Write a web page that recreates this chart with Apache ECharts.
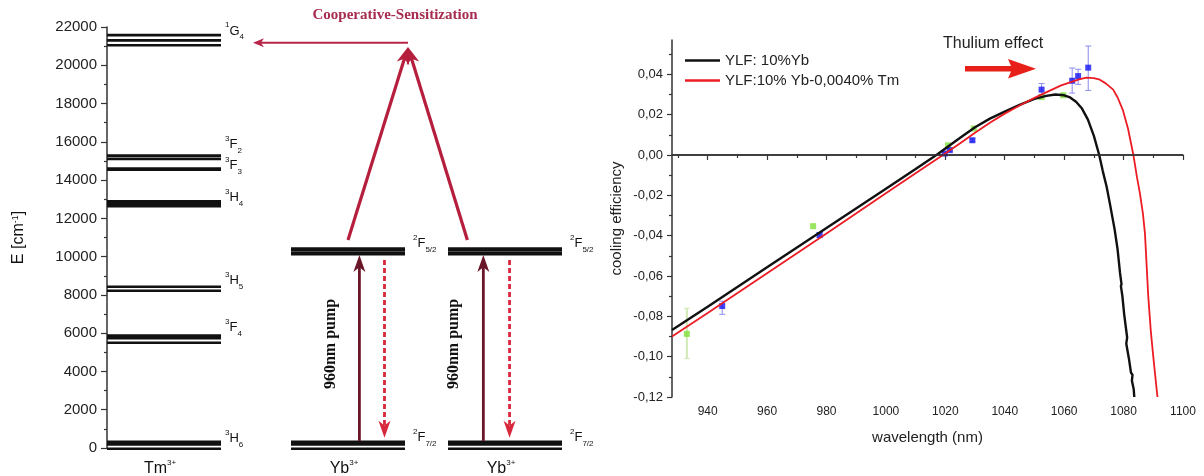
<!DOCTYPE html>
<html><head><meta charset="utf-8">
<script src="https://cdn.jsdelivr.net/npm/echarts@6/dist/echarts.min.js"></script>
<style>html,body{margin:0;padding:0;background:#fff}#c{width:1204px;height:476px}</style>
</head><body><div id="c"></div>
<script>
// ===================== DATA =====================
// Left panel: energy levels (cm^-1)
const tmLevelLabels = [['1','G','4'],['3','F','2'],['3','F','3'],['3','H','4'],['3','H','5'],['3','F','4'],['3','H','6']];
const tmSublevels = [[21575,21300,21050],[15280,15110],[14600,14540],[12890,12800,12720,12640],[8430,8220],[5870,5740,5500],[330,190,-40]];
const ybLevelLabels = [['2','F','5/2'],['2','F','7/2']];
const ybSublevels = [[10420,10330,10200,10130],[330,190,-40]];
const ionNames = ['Tm','Yb','Yb'];
const energyRange = [0, 22000];
const energyStep = 2000;

// Right panel: cooling efficiency vs wavelength
const wavelengthTicks = [940,960,980,1000,1020,1040,1060,1080,1100];
const wavelengthMinorTicks = [930,950,970,990,1010,1030,1050,1070,1090];
const wavelengthRange = [928, 1100];
const efficiencyTicks = [-0.12,-0.10,-0.08,-0.06,-0.04,-0.02,0.00,0.02,0.04];
const efficiencyMinorTicks = [-0.11,-0.09,-0.07,-0.05,-0.03,-0.01,0.01,0.03,0.05];
const efficiencyRange = [-0.12, 0.057];
const seriesNames = ['YLF: 10%Yb','YLF:10% Yb-0,0040% Tm'];
const blackCurve = [[928,-0.0868],[940,-0.0752],[960,-0.0557],[980,-0.0362],[1000,-0.0167],[1010,-0.0069],[1017,0.0],[1025,0.0085],[1030,0.0137],[1035,0.0180],[1040,0.0215],[1045,0.0248],[1050,0.0278],[1054,0.0293],[1057,0.0300],[1060,0.0296],[1062,0.0285],[1064,0.0264],[1066,0.0230],[1068,0.0175],[1070,0.0095],[1071.8,0.0],[1073,-0.0080],[1074.3,-0.0158],[1075.5,-0.0250],[1077,-0.0370],[1078,-0.0470],[1078.8,-0.0585],[1079.3,-0.0640],[1079.1,-0.0650],[1079.6,-0.0700],[1080.2,-0.0790],[1081.2,-0.0905],[1080.9,-0.0935],[1081.8,-0.1010],[1082.5,-0.1080],[1083.0,-0.1090],[1082.8,-0.1120],[1083.4,-0.1160],[1083.6,-0.1200]];
const redCurve = [[928,-0.0900],[940,-0.0783],[960,-0.0586],[980,-0.0389],[1000,-0.0190],[1010,-0.0091],[1019.2,0.0],[1025,0.0058],[1030,0.0110],[1035,0.0160],[1040,0.0205],[1045,0.0245],[1050,0.0283],[1055,0.0318],[1059,0.0345],[1062.5,0.0362],[1065,0.0375],[1067.5,0.0383],[1070,0.0381],[1072,0.0373],[1074,0.0355],[1076.5,0.0324],[1078,0.0285],[1079.8,0.0221],[1081.5,0.0130],[1083.3,0.0],[1084.5,-0.0110],[1085.5,-0.0190],[1086.5,-0.0290],[1087.2,-0.0390],[1088.3,-0.0700],[1089.2,-0.0880],[1090.2,-0.1030],[1091.4,-0.1200]];
// [wavelength, value, low, high]
const bluePoints = [[944.9,-0.0749,-0.0790,-0.0725],[977.7,-0.0397,-0.0410,-0.0385],[1019.8,0.0007,0.0000,0.0014],[1021.5,0.0024,0.0017,0.0031],[1029.1,0.0073,0.0066,0.0080],[1052.4,0.0324,0.0300,0.0354],[1062.7,0.0368,0.0307,0.0431],[1064.7,0.0391,0.0350,0.0425],[1068.1,0.0433,0.0320,0.0540]];
const greenPoints = [[933.0,-0.0887,-0.1010,-0.0760],[975.5,-0.0353,-0.0353,-0.0353],[1020.9,0.0048,0.0048,0.0048],[1029.6,0.0131,0.0131,0.0131],[1052.4,0.0287,0.0287,0.0287],[1059.7,0.0296,0.0296,0.0296]];

// ===================== LAYOUT =====================
const SANS = 'Liberation Sans, Arial, sans-serif';
const SERIF = 'Liberation Serif, Times New Roman, serif';
const columns = [{x0:0,x1:114,dx:4},{x0:184,x1:298,dx:8},{x0:341,x1:455,dx:8}];
const tmLabelDy = [-4,-11,-3,-4,-6,-8,-3];
const ybLabelDy = [-5,-4];
const levelItems = [];
tmSublevels.forEach((e,i)=>levelItems.push({col:0, energies:e, label:tmLevelLabels[i], dy:tmLabelDy[i]}));
ybSublevels.forEach((e,i)=>{ levelItems.push({col:1, energies:e, label:ybLevelLabels[i], dy:ybLabelDy[i]}); levelItems.push({col:2, energies:e, label:ybLevelLabels[i], dy:ybLabelDy[i]}); });

const ybUpper = ybSublevels[0], ybGround = ybSublevels[1];
const g4 = tmSublevels[0];
const colX = (c,f)=>columns[c].x0 + f*(columns[c].x1-columns[c].x0);
const apexX = 301;
const COOP='#b51f3d', PUMP='#6a1629', EMIT='#d8283c';
const arrows = [
  {from:[colX(1,0.5), Math.max(...ybUpper)+450], to:[apexX, Math.min(...g4)-100], color:COOP, w:3.2, L:17, W:13},
  {from:[colX(2,0.17), Math.max(...ybUpper)+450], to:[apexX, Math.min(...g4)-100], color:COOP, w:3.2, L:17, W:13},
  {from:[apexX, (g4[1]+g4[2])/2], to:[columns[0].x1+32, (g4[1]+g4[2])/2], color:'#b8254a', w:2, L:11, W:9},
  {from:[colX(1,0.6), Math.max(...ybGround)+40], to:[colX(1,0.6), Math.min(...ybUpper)-40], color:PUMP, w:2.8, L:17, W:12, text:true},
  {from:[colX(2,0.31), Math.max(...ybGround)+40], to:[colX(2,0.31), Math.min(...ybUpper)-40], color:PUMP, w:2.8, L:17, W:12, text:true},
  {from:[colX(1,0.82), Math.min(...ybUpper)-300], to:[colX(1,0.82), Math.max(...ybGround)+200], color:EMIT, w:2.8, L:17, W:12, dash:[5,3]},
  {from:[colX(2,0.54), Math.min(...ybUpper)-300], to:[colX(2,0.54), Math.max(...ybGround)+200], color:EMIT, w:2.8, L:17, W:12, dash:[5,3]}
];

const richLevel = {
  sup:{fontSize:8, fontFamily:SANS, verticalAlign:'top', lineHeight:9, fill:'#111'},
  main:{fontSize:13, fontFamily:SANS, lineHeight:20, fill:'#111'},
  sub:{fontSize:8, fontFamily:SANS, verticalAlign:'bottom', lineHeight:9, fill:'#111'}
};

function renderLevel(params, api){
  const it = levelItems[params.dataIndex];
  const c = columns[it.col];
  const ch = [];
  it.energies.forEach(E=>{
    const p0 = api.coord([c.x0,E]), p1 = api.coord([c.x1,E]);
    ch.push({type:'line', shape:{x1:p0[0],y1:p0[1],x2:p1[0],y2:p1[1]}, style:{stroke:'#111', lineWidth:2.6}});
  });
  const top = api.coord([c.x1, Math.max(...it.energies)]);
  const l = it.label;
  ch.push({type:'text', x: top[0]+c.dx, y: top[1]+it.dy, style:{text:'{sup|'+l[0]+'}{main|'+l[1]+'}{sub|'+l[2]+'}', rich:richLevel, align:'left', verticalAlign:'middle'}});
  return {type:'group', children:ch};
}
function renderIon(params, api){
  const c = columns[params.dataIndex];
  const p = api.coord([(c.x0+c.x1)/2 - 4, energyRange[0]]);
  return {type:'text', x:p[0], y:p[1]+21, style:{text:'{m|'+ionNames[params.dataIndex]+'}{s|3+}', align:'center', verticalAlign:'middle',
    rich:{m:{fontSize:16, fontFamily:SANS, lineHeight:20, fill:'#111'}, s:{fontSize:8, fontFamily:SANS, verticalAlign:'top', lineHeight:10, fill:'#111'}}}};
}
function arrowHead(tip, dir, L, W){
  const [dx,dy]=dir, nx=-dy, ny=dx;
  const bx=tip[0]-dx*L, by=tip[1]-dy*L;
  const notch=[tip[0]-dx*L*0.72, tip[1]-dy*L*0.72];
  return [tip,[bx+nx*W/2,by+ny*W/2],notch,[bx-nx*W/2,by-ny*W/2]];
}
function renderArrow(params, api){
  const a = arrows[params.dataIndex];
  const p0 = api.coord(a.from), p1 = api.coord(a.to);
  const len = Math.hypot(p1[0]-p0[0], p1[1]-p0[1]);
  const dir=[(p1[0]-p0[0])/len,(p1[1]-p0[1])/len];
  const end=[p1[0]-dir[0]*a.L*0.7, p1[1]-dir[1]*a.L*0.7];
  const ch=[
    {type:'line', shape:{x1:p0[0],y1:p0[1],x2:end[0],y2:end[1]}, style:{stroke:a.color, lineWidth:a.w, lineDash:a.dash||null}},
    {type:'polygon', shape:{points:arrowHead(p1,dir,a.L,a.W)}, style:{fill:a.color}}
  ];
  if(a.text){
    ch.push({type:'text', x:p0[0]-29, y:(p0[1]+p1[1])/2 - 4, rotation:Math.PI/2,
      style:{text:'960nm pump', font:'bold 16px '+SERIF, fill:'#111', align:'center', verticalAlign:'middle'}});
  }
  return {type:'group', children:ch};
}
function errorRenderer(color, width){
  return function(params, api){
    const x=api.value(0), lo=api.value(2), hi=api.value(3);
    if(Math.abs(hi-lo)<1e-6) return null;
    const pl=api.coord([x,lo]), ph=api.coord([x,hi]);
    const cap=3;
    return {type:'group', children:[
      {type:'line', shape:{x1:pl[0],y1:pl[1],x2:ph[0],y2:ph[1]}, style:{stroke:color,lineWidth:width}},
      {type:'line', shape:{x1:pl[0]-cap,y1:pl[1],x2:pl[0]+cap,y2:pl[1]}, style:{stroke:color,lineWidth:1}},
      {type:'line', shape:{x1:ph[0]-cap,y1:ph[1],x2:ph[0]+cap,y2:ph[1]}, style:{stroke:color,lineWidth:1}}
    ]};
  };
}
const fmtComma = v => (Math.abs(v)<1e-9?0:v).toFixed(2).replace('.',',');
const fmtPlain = v => String(Math.round(v));
const AX = '#333';

const option = {
  animation:false,
  backgroundColor:'#fff',
  textStyle:{fontFamily:SANS},
  grid:[
    {left:107, top:27, width:460, height:421},
    {left:672, top:40, right:21, bottom:79}
  ],
  xAxis:[
    {gridIndex:0, type:'value', min:0, max:460, show:false},
    {gridIndex:1, type:'value', position:'bottom', min:wavelengthRange[0], max:wavelengthRange[1],
      name:'wavelength (nm)', nameLocation:'middle', nameGap:33, nameTextStyle:{fontSize:15, color:'#222', fontFamily:SANS},
      axisLine:{lineStyle:{color:AX, width:1.5}}, splitLine:{show:false},
      axisTick:{customValues:wavelengthTicks, length:5, lineStyle:{color:AX, width:1.2}},
      axisLabel:{customValues:wavelengthTicks, fontSize:12, color:'#222', margin:9, formatter:fmtPlain}},
    {gridIndex:1, type:'value', position:'bottom', min:wavelengthRange[0], max:wavelengthRange[1], axisLine:{show:false}, splitLine:{show:false},
      axisLabel:{show:false}, axisTick:{show:true, customValues:wavelengthMinorTicks, length:3, lineStyle:{color:AX, width:1.2}}}
  ],
  yAxis:[
    {gridIndex:0, type:'value', min:energyRange[0], max:energyRange[1], interval:energyStep,
      name:'E [cm{s|-1}]', nameLocation:'middle', nameGap:80, nameRotate:90,
      nameTextStyle:{fontSize:16, color:'#111', fontFamily:SANS, rich:{s:{fontSize:9, verticalAlign:'top', lineHeight:10}}},
      axisLine:{show:true, lineStyle:{color:AX, width:1.5}}, splitLine:{show:false},
      axisTick:{show:true, length:6, lineStyle:{color:AX, width:1.2}},
      minorTick:{show:true, splitNumber:2, length:3, lineStyle:{color:AX, width:1.2}},
      axisLabel:{fontSize:15, color:'#222', margin:10, formatter:fmtPlain}},
    {gridIndex:1, type:'value', position:'left', min:efficiencyRange[0], max:efficiencyRange[1],
      name:'cooling efficiency', nameLocation:'middle', nameGap:48, nameRotate:90,
      nameTextStyle:{fontSize:15, color:'#222', fontFamily:SANS},
      axisLine:{show:true, lineStyle:{color:AX, width:1.5}}, splitLine:{show:false},
      axisTick:{show:true, customValues:efficiencyTicks, length:5, lineStyle:{color:AX, width:1.2}},
      axisLabel:{customValues:efficiencyTicks, fontSize:13, color:'#222', margin:9, formatter:fmtComma}},
    {gridIndex:1, type:'value', position:'left', offset:0, min:efficiencyRange[0], max:efficiencyRange[1], axisLine:{show:false}, splitLine:{show:false},
      axisLabel:{show:false}, axisTick:{show:true, customValues:efficiencyMinorTicks, length:3, lineStyle:{color:AX, width:1.2}}}
  ],
  legend:{data:seriesNames, orient:'vertical', left:685, top:53, itemWidth:35, itemHeight:2.5, icon:'rect', itemGap:5, padding:0,
    textStyle:{fontSize:15, color:'#222', fontFamily:SANS}},
  graphic:[
    {type:'text', x:395, y:15, style:{text:'Cooperative-Sensitization', font:'bold 15px '+SERIF, fill:'#a62c50', align:'center', verticalAlign:'middle'}},
    {type:'text', x:943, y:44, style:{text:'Thulium effect', font:'16px '+SANS, fill:'#222', align:'left', verticalAlign:'middle'}},
    {type:'polygon', shape:{points:[[965,66],[1011,66],[1008,59],[1036,68.8],[1008,78.5],[1011,71.5],[965,71.5]]}, style:{fill:'#e8201a'}}
  ],
  series:[
    {type:'custom', name:'levels', xAxisIndex:0, yAxisIndex:0, renderItem:renderLevel, data:levelItems.map((d,i)=>[i]), encode:{x:0}, clip:false, silent:true},
    {type:'custom', name:'ions', xAxisIndex:0, yAxisIndex:0, renderItem:renderIon, data:columns.map((d,i)=>[i]), encode:{x:0}, clip:false, silent:true},
    {type:'custom', name:'arrows', xAxisIndex:0, yAxisIndex:0, renderItem:renderArrow, data:arrows.map((d,i)=>[i]), encode:{x:0}, clip:false, silent:true},
    {type:'line', name:seriesNames[0], xAxisIndex:1, yAxisIndex:1, data:blackCurve, showSymbol:false, symbol:'none',
      lineStyle:{color:'#111', width:2.4}, itemStyle:{color:'#111'},
      markLine:{silent:true, symbol:'none', label:{show:false}, lineStyle:{color:'#333', width:1.5, type:'solid'}, data:[{yAxis:0}]}},
    {type:'line', name:seriesNames[1], xAxisIndex:1, yAxisIndex:1, data:redCurve, showSymbol:false, symbol:'none',
      lineStyle:{color:'#ec1c24', width:1.8}, itemStyle:{color:'#ec1c24'}},
    {type:'custom', name:'greenErr', xAxisIndex:1, yAxisIndex:1, renderItem:errorRenderer('#cfe9b4',2), data:greenPoints, encode:{x:0,y:1}},
    {type:'custom', name:'blueErr', xAxisIndex:1, yAxisIndex:1, renderItem:errorRenderer('#8c8cf0',1), data:bluePoints, encode:{x:0,y:1}},
    {type:'scatter', name:'green', xAxisIndex:1, yAxisIndex:1, data:greenPoints.map(p=>[p[0],p[1]]), symbol:'rect', symbolSize:6, itemStyle:{color:'#80e03a'}},
    {type:'scatter', name:'blue', xAxisIndex:1, yAxisIndex:1, data:bluePoints.map(p=>[p[0],p[1]]), symbol:'rect', symbolSize:6, itemStyle:{color:'#1414f0'}}
  ]
};
const chart = echarts.init(document.getElementById('c'), null, {renderer:'canvas'});
chart.setOption(option);
</script></body></html>
